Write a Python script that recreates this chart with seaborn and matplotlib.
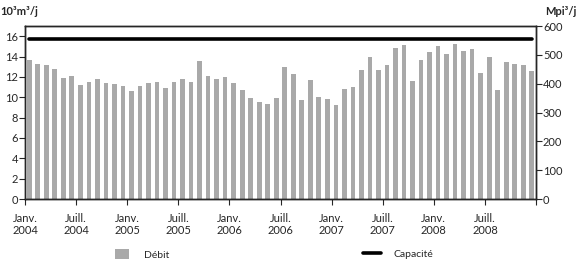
import numpy as np
import pandas as pd
import matplotlib
matplotlib.use("Agg")
import matplotlib.pyplot as plt
import seaborn as sns
from matplotlib.patches import Patch
from matplotlib.lines import Line2D

# Monthly flow (10^3 m3/d), Jan 2004 .. Dec 2008
debit = [13.64, 13.31, 13.20, 12.82, 11.90, 12.13, 11.25, 11.48, 11.80, 11.44, 11.34, 11.08,
         10.59, 11.11, 11.38, 11.54, 10.89, 11.48, 11.77, 11.54, 13.54, 12.07, 11.84, 12.03,
         11.41, 10.69, 9.90, 9.51, 9.31, 9.97, 12.97, 12.31, 9.68, 11.67, 10.07, 9.87,
         9.19, 10.82, 10.98, 12.72, 13.99, 12.68, 13.14, 14.81, 15.14, 11.61, 13.63, 14.42,
         15.00, 14.25, 15.27, 14.55, 14.78, 12.42, 13.99, 10.72, 13.47, 13.24, 13.17, 12.55]
capacite = 15.73
tick_labels = ["Janv.\n2004", "Juill.\n2004", "Janv.\n2005", "Juill.\n2005", "Janv.\n2006",
               "Juill.\n2006", "Janv.\n2007", "Juill.\n2007", "Janv.\n2008", "Juill.\n2008", ""]
left_label = "10³m³/j"
right_label = "Mpi³/j"
legend_labels = ["Débit", "Capacité"]

sns.set_style("ticks")
plt.rcParams['font.family'] = ['Lato', 'DejaVu Sans']

W, H = 580, 261
pos = np.arange(len(debit)) + 0.5
df = pd.DataFrame({"pos": pos, "debit": debit, "cap": [capacite] * len(debit)})

fig = plt.figure(figsize=(5.8, 2.61), dpi=100)
ax = fig.add_axes([25 / W, 1 - 199 / H, (536 - 25) / W, (199 - 26) / H])

sns.barplot(data=df, x="pos", y="debit", native_scale=True, color="#a9a9a9",
            saturation=1, width=0.55, ax=ax, linewidth=0)
sns.lineplot(data=df, x="pos", y="cap", color="black", linewidth=2.6, ax=ax)

ax.set_xlim(0, 60)
ax.set_ylim(0, 17)
ax.set_xticks(np.arange(0, 61, 6))
ax.set_xticklabels(tick_labels, fontsize=8, linespacing=1.1)
ax.set_yticks(np.arange(0, 17, 2))
ax.tick_params(axis="y", labelsize=8, length=4, width=0.8, pad=1)
ax.tick_params(axis="x", length=4, width=0.8, pad=6)
ax.set_xlabel("")
ax.set_ylabel("")
for s in ax.spines.values():
    s.set_visible(True)
    s.set_color("black")
    s.set_linewidth(1.0)

ax2 = ax.twinx()
ax2.set_ylim(0, 600)
ax2.set_yticks(np.arange(0, 601, 100))
ax2.tick_params(axis="y", labelsize=8, length=4, width=0.8, pad=1)
for s in ax2.spines.values():
    s.set_linewidth(1.0)

fig.text(0.0, 1 - 12 / H, left_label, fontsize=8, fontweight="bold", va="center", ha="left")
fig.text(1 - 3 / W, 1 - 12 / H, right_label, fontsize=8, fontweight="bold", va="center", ha="right")

leg1 = fig.legend([Patch(facecolor="#a9a9a9", edgecolor="none")], [legend_labels[0]],
                  loc="center left", bbox_to_anchor=(115 / W, 1 - 254.5 / H),
                  frameon=False, fontsize=7.5, borderpad=0, borderaxespad=0,
                  handlelength=1.35, handleheight=1.15, handletextpad=1.4)
fig.legend([Line2D([0], [0], color="black", linewidth=2.6)], [legend_labels[1]],
           loc="center left", bbox_to_anchor=(363 / W, 1 - 254.5 / H),
           frameon=False, fontsize=7.5, borderpad=0, borderaxespad=0,
           handlelength=1.7, handletextpad=1.2)

fig.savefig("out.png", dpi=100)
